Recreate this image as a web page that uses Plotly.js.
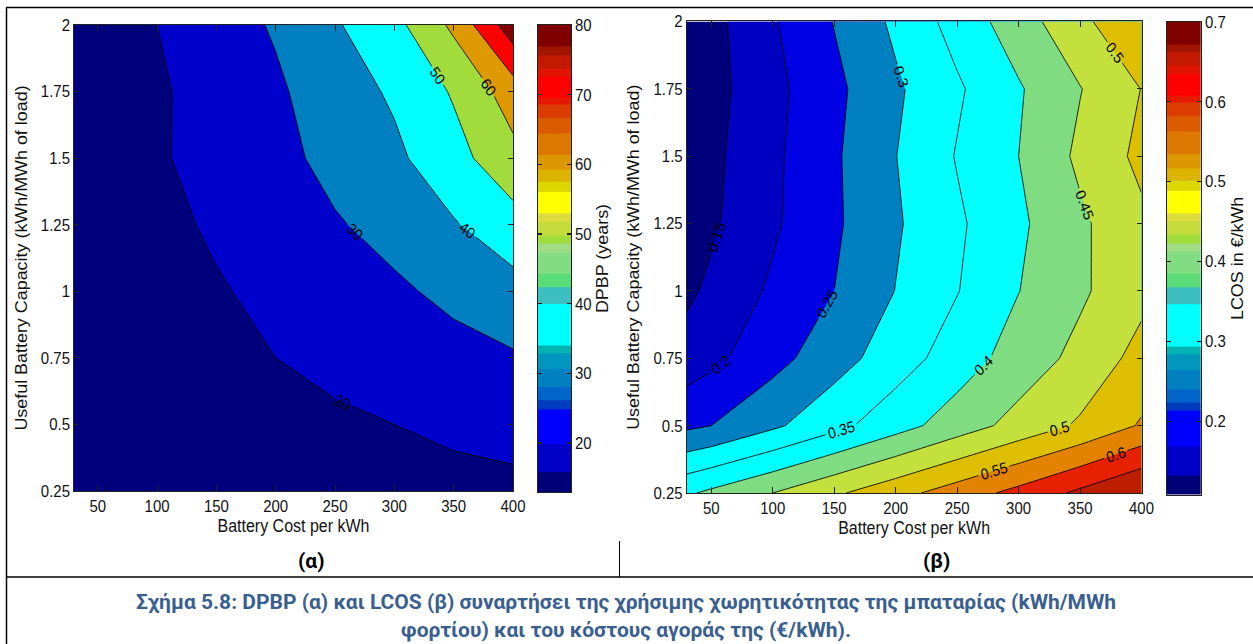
<!DOCTYPE html>
<html><head><meta charset="utf-8">
<script src="https://cdn.plot.ly/plotly-3.0.1.min.js"></script>
<style>
html,body{margin:0;padding:0;background:#fff;}
body{position:relative;width:1253px;height:644px;overflow:hidden;}
#charts{position:absolute;left:0;top:0;width:1253px;height:482px;transform:scaleY(1.1203);transform-origin:0 0;}
#caption{position:absolute;left:0;top:540px;width:1253px;height:104px;}
</style>
</head><body><div id="charts"></div><div id="caption"></div>
<script>
// ---- data ----
const batteryCost = [30, 50, 100, 150, 200, 250, 300, 350, 400];
const capacity = [0.25, 0.5, 0.75, 1, 1.25, 1.5, 1.75, 2];
// DPBP (years): rows = capacity, columns = batteryCost
const dpbp = [
  [13.0, 13.3, 14.0, 15.0, 15.8, 16.2, 16.6, 17.1, 17.8],
  [13.3, 13.8, 14.8, 16.5, 18.0, 18.6, 20.0, 21.9, 23.3],
  [13.6, 14.3, 15.5, 18.0, 20.0, 22.2, 24.3, 26.8, 29.0],
  [13.8, 14.8, 16.1, 19.2, 22.2, 25.6, 28.4, 32.3, 36.5],
  [14.0, 15.3, 17.5, 21.3, 24.8, 29.1, 33.3, 39.2, 46.0],
  [14.2, 16.0, 18.9, 23.4, 27.0, 33.0, 38.0, 46.5, 57.0],
  [14.2, 16.2, 18.8, 23.6, 28.5, 35.2, 41.4, 51.0, 65.0],
  [13.5, 15.0, 20.0, 25.5, 31.0, 39.0, 47.0, 62.0, 86.0]
];
// LCOS (EUR/kWh)
const lcos = [
  [0.393, 0.410, 0.450, 0.492, 0.533, 0.574, 0.615, 0.660, 0.705],
  [0.240, 0.250, 0.291, 0.335, 0.380, 0.425, 0.467, 0.507, 0.555],
  [0.172, 0.187, 0.233, 0.279, 0.326, 0.374, 0.422, 0.464, 0.5175],
  [0.140, 0.160, 0.208, 0.250, 0.301, 0.348, 0.399, 0.442, 0.486],
  [0.122, 0.142, 0.1925, 0.242, 0.294, 0.342, 0.391, 0.441, 0.490],
  [0.117, 0.138, 0.190, 0.243, 0.299, 0.353, 0.400, 0.460, 0.512],
  [0.112, 0.133, 0.1855, 0.238, 0.292, 0.343, 0.395, 0.448, 0.501],
  [0.110, 0.134, 0.195, 0.252, 0.310, 0.369, 0.427, 0.487, 0.548]
];
const dpbpLevels = {start: 20, end: 80, size: 10};
const lcosLevels = {start: 0.15, end: 0.65, size: 0.05};
const dpbpBarRange = [12.96, 80];
const lcosBarRange = [0.108, 0.7];
const xTicks = [50, 100, 150, 200, 250, 300, 350, 400];
const yTicks = [0.25, 0.5, 0.75, 1, 1.25, 1.5, 1.75, 2];
const yTickText = ['0.25', '0.5', '0.75', '1', '1.25', '1.5', '1.75', '2'];
const dpbpBarTicks = [20, 30, 40, 50, 60, 70, 80];
const lcosBarTicks = [0.2, 0.3, 0.4, 0.5, 0.6, 0.7];
const lcosBarTickText = ['0.2', '0.3', '0.4', '0.5', '0.6', '0.7'];

// ---- styles ----
const dpbpFill = ['rgb(0,0,125)', 'rgb(0,0,205)', 'rgb(0,128,192)', 'rgb(0,255,255)',
  'rgb(162,220,60)', 'rgb(222,152,0)', 'rgb(255,0,0)', 'rgb(128,0,0)'];
const lcosFill = ['rgb(0,0,125)', 'rgb(0,0,195)', 'rgb(0,0,228)', 'rgb(0,128,192)',
  'rgb(0,255,255)', 'rgb(0,255,255)', 'rgb(128,220,128)', 'rgb(196,224,60)',
  'rgb(222,190,0)', 'rgb(226,130,0)', 'rgb(230,32,0)', 'rgb(190,30,0)'];
// colour bar bands (fractions of bar length from bottom) and colours
const barEdges = [0, 0.0424, 0.1035, 0.1781, 0.1960, 0.2243, 0.2646, 0.2960, 0.3138,
  0.4033, 0.4391, 0.4675, 0.5137, 0.5316, 0.5495, 0.5779, 0.5958, 0.6435, 0.6644,
  0.6898, 0.7211, 0.7673, 0.8002, 0.8285, 0.8434, 0.8897, 0.9076, 0.9359, 0.9538, 1];
const barColors = ['rgb(0,0,120)', 'rgb(0,0,200)', 'rgb(0,0,255)', 'rgb(0,60,190)',
  'rgb(0,100,200)', 'rgb(0,128,192)', 'rgb(0,150,190)', 'rgb(0,180,180)', 'rgb(0,255,255)',
  'rgb(60,190,190)', 'rgb(90,220,120)', 'rgb(130,220,130)', 'rgb(160,220,130)',
  'rgb(160,220,60)', 'rgb(195,220,60)', 'rgb(220,220,60)', 'rgb(255,255,0)',
  'rgb(220,215,0)', 'rgb(220,180,0)', 'rgb(220,150,0)', 'rgb(220,120,0)', 'rgb(220,90,0)',
  'rgb(220,60,0)', 'rgb(230,25,0)', 'rgb(255,0,0)', 'rgb(225,20,0)', 'rgb(195,25,0)',
  'rgb(160,20,0)', 'rgb(128,0,0)'];

function stepScale(colors) {
  const n = colors.length - 1;
  return colors.map((c, i) => [i / n, c]);
}
function barTrace(range, xa, ya) {
  const edges = barEdges.map(f => range[0] + f * (range[1] - range[0]));
  return {
    type: 'heatmap', x: [0, 1], y: edges, z: barColors.map((c, i) => [i]),
    colorscale: stepScale(barColors), zmin: 0, zmax: barColors.length - 1,
    showscale: false, hoverinfo: 'skip', xaxis: xa, yaxis: ya
  };
}
const FONT = "'Liberation Sans', Arial, Helvetica, sans-serif";
const lblFont = {family: FONT, size: 14, color: '#000'};

const traces = [
  {
    type: 'contour', x: batteryCost, y: capacity, z: dpbp,
    autocontour: false, contours: Object.assign({coloring: 'fill', showlabels: true, labelfont: lblFont, labelformat: '~g'}, dpbpLevels),
    colorscale: stepScale(dpbpFill), showscale: false,
    line: {color: '#000', width: 0.8, smoothing: 0}, xaxis: 'x', yaxis: 'y'
  },
  {
    type: 'contour', x: batteryCost, y: capacity, z: lcos,
    autocontour: false, contours: Object.assign({coloring: 'fill', showlabels: true, labelfont: lblFont, labelformat: '~g'}, lcosLevels),
    colorscale: stepScale(lcosFill), showscale: false,
    line: {color: '#000', width: 0.8, smoothing: 0}, xaxis: 'x2', yaxis: 'y2'
  },
  barTrace(dpbpBarRange, 'x3', 'y3'),
  barTrace(lcosBarRange, 'x4', 'y4')
];

const tickFont = {family: FONT, size: 15, color: '#111'};
const titleFont = {family: FONT, size: 16, color: '#111'};
function xAx(domain, anchor) {
  return {domain: domain, anchor: anchor, range: [30, 400], tickvals: xTicks,
    ticks: 'inside', ticklen: 5, tickcolor: '#222', mirror: 'ticks', showline: true,
    linecolor: '#222', linewidth: 1, showgrid: false, zeroline: false, tickfont: tickFont,
    title: {text: 'Battery Cost per kWh', font: titleFont, standoff: 4}};
}
function yAx(domain, anchor) {
  return {domain: domain, anchor: anchor, range: [0.25, 2], tickvals: yTicks, ticktext: yTickText,
    ticks: 'inside', ticklen: 5, tickcolor: '#222', mirror: 'ticks', showline: true,
    linecolor: '#222', linewidth: 1, showgrid: false, zeroline: false, tickfont: tickFont,
    title: {text: 'Useful Battery Capacity (kWh/MWh of load)', font: titleFont, standoff: 9}};
}
function cbX(domain, anchor) {
  return {domain: domain, anchor: anchor, range: [0, 1], showticklabels: false, ticks: '',
    showline: true, mirror: true, linecolor: '#222', linewidth: 1, showgrid: false, zeroline: false, fixedrange: true};
}
function cbY(domain, anchor, range, tv, tt, title) {
  const a = {domain: domain, anchor: anchor, range: range, side: 'right', tickvals: tv,
    ticks: 'inside', ticklen: 4, tickcolor: '#222', mirror: 'ticks', showline: true,
    linecolor: '#222', linewidth: 1, showgrid: false, zeroline: false, tickfont: tickFont,
    title: {text: title, font: titleFont, standoff: 6}, fixedrange: true};
  if (tt) a.ticktext = tt;
  return a;
}
const W = 1253, HT = 482, HC = 104;
// reference pixel -> paper fraction (top part covers reference rows 0..540, bottom part 540..644)
const px = v => v / W, py = v => 1 - v / 540, pc = v => 1 - (v - 540) / HC;
const layoutTop = {
  width: W, height: HT, margin: {l: 0, r: 0, t: 0, b: 0},
  paper_bgcolor: '#fff', plot_bgcolor: '#fff', showlegend: false,
  font: {family: FONT, color: '#000'},
  xaxis: xAx([px(74), px(513)], 'y'),
  yaxis: yAx([py(491), py(25)], 'x'),
  xaxis2: xAx([px(686.7), px(1141.5)], 'y2'),
  yaxis2: yAx([py(493), py(21.5)], 'x2'),
  xaxis3: cbX([px(538), px(571)], 'y3'),
  yaxis3: cbY([py(492), py(25)], 'x3', dpbpBarRange, dpbpBarTicks, null, 'DPBP (years)'),
  xaxis4: cbX([px(1166.7), px(1201)], 'y4'),
  yaxis4: cbY([py(495), py(21.7)], 'x4', lcosBarRange, lcosBarTicks, lcosBarTickText, 'LCOS in €/kWh'),
  shapes: [
    {type: 'line', xref: 'paper', yref: 'paper', x0: px(6), x1: 1, y0: py(7.5), y1: py(7.5), line: {color: '#000', width: 1.4}},
    {type: 'line', xref: 'paper', yref: 'paper', x0: px(6.5), x1: px(6.5), y0: py(7.5), y1: 0, line: {color: '#000', width: 1.5}}
  ]
};
const caption = {family: 'Roboto, Noto Sans, sans-serif', size: 21, color: '#3A5F8F'};
const labelFont = {family: 'Roboto, Noto Sans, sans-serif', size: 21, color: '#000'};
function note(x, y, text, font) {
  return {xref: 'paper', yref: 'paper', x: px(x), y: pc(y), xanchor: 'center', yanchor: 'middle',
    text: text, showarrow: false, font: font};
}
const layoutCap = {
  width: W, height: HC, margin: {l: 0, r: 0, t: 0, b: 0},
  paper_bgcolor: '#fff', plot_bgcolor: '#fff', showlegend: false,
  xaxis: {visible: false}, yaxis: {visible: false},
  shapes: [
    {type: 'line', xref: 'paper', yref: 'paper', x0: px(6.5), x1: px(6.5), y0: 1, y1: 0, line: {color: '#000', width: 1.5}},
    {type: 'line', xref: 'paper', yref: 'paper', x0: px(6), x1: 1, y0: pc(577), y1: pc(577), line: {color: '#000', width: 1.5}},
    {type: 'line', xref: 'paper', yref: 'paper', x0: px(619.5), x1: px(619.5), y0: pc(541), y1: pc(577), line: {color: '#000', width: 1}}
  ],
  annotations: [
    note(311, 561, '<b>(α)</b>', labelFont),
    note(936, 561, '<b>(β)</b>', labelFont),
    note(626, 602, '<b>Σχήμα 5.8: DPBP (α) και LCOS (β) συναρτήσει της χρήσιμης χωρητικότητας της μπαταρίας (kWh/MWh</b>', caption),
    note(626, 630, '<b>φορτίου) και του κόστους αγοράς της (€/kWh).</b>', caption)
  ]
};
const cfg = {staticPlot: true, displayModeBar: false};
Plotly.newPlot('charts', traces, layoutTop, cfg);
Plotly.newPlot('caption', [], layoutCap, cfg);
</script></body></html>
